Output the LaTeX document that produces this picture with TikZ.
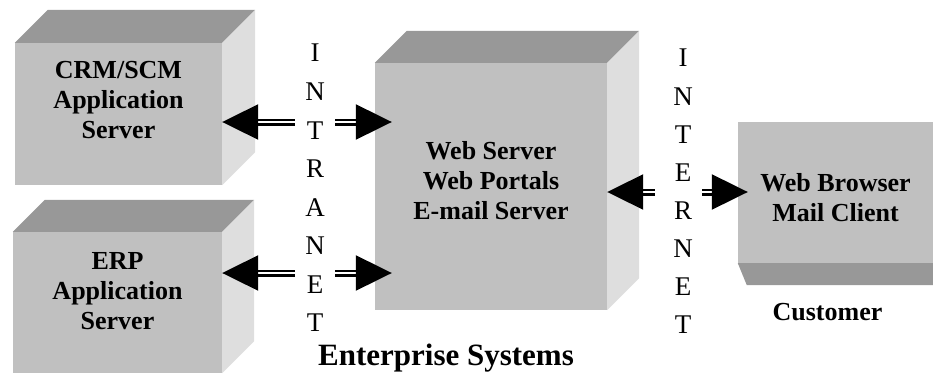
\documentclass[tikz,border=0pt]{standalone}
\usepackage{fontspec}
\setmainfont{Liberation Serif}
\usetikzlibrary{arrows.meta,calc,positioning}
\definecolor{facefront}{RGB}{192,192,192}
\definecolor{facetop}{RGB}{152,152,152}
\definecolor{faceside}{RGB}{222,222,222}

\begin{document}
\begin{tikzpicture}[x=1pt,y=1pt,
    front/.style={fill=facefront, draw=none, inner sep=0pt},
    boxtext/.style={font=\fontsize{26}{30}\selectfont\bfseries, align=center},
    letter/.style={font=\fontsize{27}{30}\selectfont, inner sep=0pt, text height=18pt, text depth=0pt},
    link/.style={double, line width=2.2pt, double distance=2.6pt, -{Triangle[length=36pt,width=35pt]}}]
    \useasboundingbox (0,0) rectangle (933,381);
    % scale: 1 px of the original = 1 pt, y counted from the bottom.
    \foreach \n/\cx/\cy/\w/\h/\d/\ty/\t in {
      crm/118.5/267/207/142/33/14/{CRM/SCM\\Application\\Server},
      erp/117.5/78.5/209/141/32/11.5/{ERP\\Application\\Server},
      web/491/194.5/232/247/32/5.5/{Web Server\\Web Portals\\E-mail Server}} {
      \node[front, minimum width=\w, minimum height=\h] (\n) at (\cx,\cy) {};
      \fill[facetop] (\n.north west) -- ++(\d,\d) -- ($(\n.north east)+(\d,\d)$) -- (\n.north east) -- cycle;
      \fill[faceside] (\n.north east) -- ++(\d,\d) -- ($(\n.south east)+(\d,\d)$) -- (\n.south east) -- cycle;
      \node[boxtext] at ([yshift=\ty]\n.center) {\t};
    }
    % customer box, seen from below
    \node[front, minimum width=195, minimum height=141] (cust) at (835.5,188.5) {};
    \fill[facetop] (cust.south west) -- (cust.south east) -- ++(0,-22) -- ($(cust.south west)+(9,-22)$) -- cycle;
    \node[boxtext] at ([yshift=-5.5]cust.center) {Web Browser\\Mail Client};
    \node[boxtext, anchor=base] (custname) at (827.5,61) {Customer};
    \node[font=\fontsize{31}{36}\selectfont\bfseries, anchor=base] (entname) at (446,16) {Enterprise Systems};
    % vertical words
    \foreach \c [count=\k] in {I,N,T,R,A,N,E,T}
      \node[letter] (intra\k) at (315,{328-38.5*(\k-1)}) {\c};
    \foreach \c [count=\k] in {I,N,T,E,R,N,E,T}
      \node[letter] (inter\k) at (683,{323-38.1*(\k-1)}) {\c};
    % arrows
    \coordinate (crmL) at (295,259);
    \coordinate (crmR) at (335,259);
    \coordinate (erpL) at (295,108);
    \coordinate (erpR) at (335,108);
    \coordinate (netL) at (655,189);
    \coordinate (netR) at (702,189);
    \draw[link] (crmL) -- (crmL -| crm.east);
    \draw[link] (crmR) -- ([xshift=17]crmR -| web.west);
    \draw[link] (erpL) -- (erpL -| erp.east);
    \draw[link] (erpR) -- ([xshift=17]erpR -| web.west);
    \draw[link] (netL) -- (netL -| web.east);
    \draw[link] (netR) -- ([xshift=10]netR -| cust.west);
\end{tikzpicture}
\end{document}
